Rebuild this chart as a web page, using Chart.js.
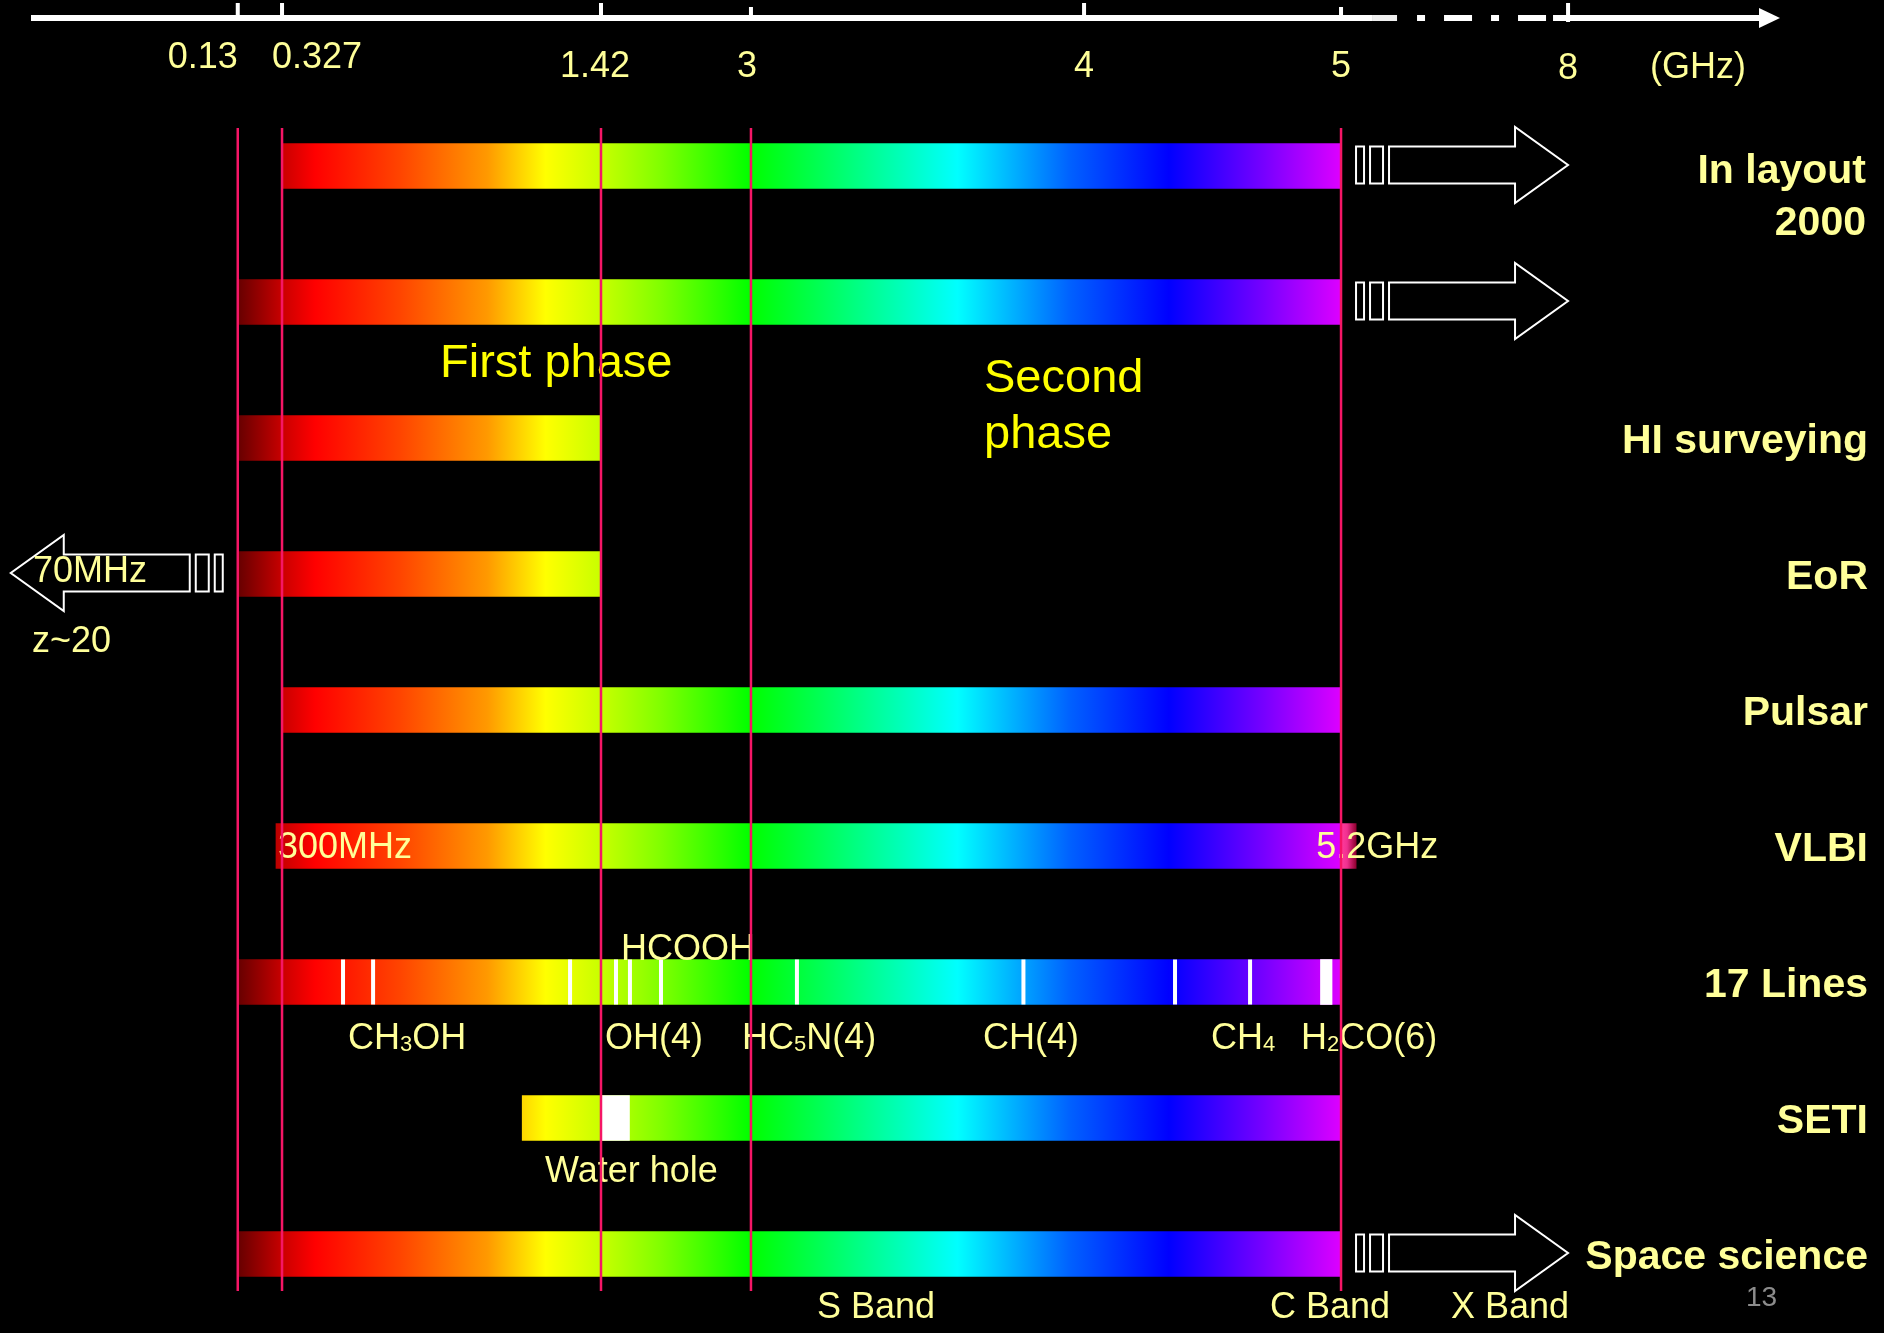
<!DOCTYPE html>
<html>
<head>
<meta charset="utf-8">
<title>Frequency coverage by science case</title>
<script src="https://cdn.jsdelivr.net/npm/chart.js@4.4.1/dist/chart.umd.min.js"></script>
<style>
  html, body { margin: 0; padding: 0; background: #000; }
  #wrap { width: 1884px; height: 1333px; }
  canvas { display: block; }
</style>
</head>
<body>
<div id="wrap"><canvas id="chart" width="1884" height="1333" style="width:1884px;height:1333px"></canvas></div>
<script>
// ---- Data -------------------------------------------------------------
// Frequency axis ticks (GHz)
const tickValues = [0.13, 0.327, 1.42, 3, 4, 5, 8];
const tickLabels = ['0.13', '0.327', '1.42', '3', '4', '5', '8'];

// Science cases, one row each, top to bottom
const rowLabels = [['In layout', '2000'], '', 'HI surveying', 'EoR', 'Pulsar', 'VLBI', '17 Lines', 'SETI', 'Space science'];

// Frequency coverage of each row, [start, end] in GHz
const coverage = [[0.327, 5], [0.13, 5], [0.13, 1.42], [0.13, 1.42], [0.327, 5], [0.3, 5.2], [0.13, 5], [1.15, 5], [0.13, 5]];

// Windows shown in white: H2CO band (17 Lines) and the water hole (SETI)
const windows = [null, null, null, null, null, null, [4.92, 4.965], [1.42, 1.72], null];

// Single spectral lines marked in the 17 Lines row (GHz)
const spectralLines = [0.536, 0.639, 1.314, 1.578, 1.725, 2.052, 3.138, 3.818, 4.354, 4.646];

// Coverage continuing past the drawn axis: 1 = higher, -1 = lower
const extendsBeyond = [1, 1, 0, -1, 0, 0, 0, 0, 1];

// Receiver boundaries (GHz)
const boundaries = [0.13, 0.327, 1.42, 3, 5];

// ---- Style ------------------------------------------------------------
const FONT = "'Liberation Sans', Arial, Helvetica, sans-serif";
const PALE = '#ffff99';
const BOUNDARY = 'rgb(245, 22, 102)';

// Position of each tick along the (hand-spaced) axis, as a fraction of the width
const axisFractions = [0.1262, 0.1497, 0.3190, 0.3986, 0.5754, 0.7118, 0.8323];

// Spectrum colour as a function of frequency
const spectrumStops = [
  [0.13, '#660000'], [0.327, '#c80000'], [0.44, '#ff0000'], [0.73, '#ff4400'],
  [1.03, '#ff9900'], [1.23, '#ffff00'], [1.42, '#c8ff00'], [2.05, '#80ff00'],
  [3.0, '#00ff00'], [3.39, '#00ffa0'], [3.62, '#00ffff'], [3.96, '#0060ff'],
  [4.33, '#0000ff'], [4.70, '#7700ff'], [5.0, '#dd00ff'], [5.004, '#ff3c9c'],
  [5.08, '#f03090'], [5.2, '#900030']
];

// ---- Piecewise frequency scale ---------------------------------------
class PiecewiseScale extends Chart.LinearScale {
  knots() { return tickValues.map((v, i) => [v, axisFractions[i]]); }
  getPixelForValue(value) {
    if (value === null || value === undefined || !isFinite(value)) return NaN;
    const k = this.knots();
    let i = 0;
    while (i < k.length - 2 && value > k[i + 1][0]) i++;
    const t = (value - k[i][0]) / (k[i + 1][0] - k[i][0]);
    return this.getPixelForDecimal(k[i][1] + t * (k[i + 1][1] - k[i][1]));
  }
  getValueForPixel(pixel) {
    const d = this.getDecimalForPixel(pixel);
    const k = this.knots();
    let i = 0;
    while (i < k.length - 2 && d > k[i + 1][1]) i++;
    const t = (d - k[i][1]) / (k[i + 1][1] - k[i][1]);
    return k[i][0] + t * (k[i + 1][0] - k[i][0]);
  }
}
PiecewiseScale.id = 'piecewise';
PiecewiseScale.defaults = {};
Chart.register(PiecewiseScale);

let spectrumCache = null;
function spectrumFill(context) {
  const chart = context.chart;
  const x = chart.scales.x;
  if (!chart.chartArea || !x) return '#ff0000';
  const x0 = x.getPixelForValue(spectrumStops[0][0]);
  const x1 = x.getPixelForValue(spectrumStops[spectrumStops.length - 1][0]);
  const key = x0 + ':' + x1;
  if (spectrumCache && spectrumCache.key === key) return spectrumCache.g;
  const g = chart.ctx.createLinearGradient(x0, 0, x1, 0);
  for (const [f, c] of spectrumStops) {
    g.addColorStop(Math.min(1, Math.max(0, (x.getPixelForValue(f) - x0) / (x1 - x0))), c);
  }
  spectrumCache = { key, g };
  return g;
}

// ---- Drawing helpers -------------------------------------------------
function put(ctx, str, x, y, size, color, align, bold) {
  ctx.font = (bold ? 'bold ' : '') + size + 'px ' + FONT;
  ctx.fillStyle = color;
  ctx.textAlign = align || 'left';
  ctx.textBaseline = 'alphabetic';
  ctx.fillText(str, x, y);
}
function putRich(ctx, parts, x, y, size, subSize, color) {
  let cx = x;
  ctx.fillStyle = color;
  ctx.textAlign = 'left';
  ctx.textBaseline = 'alphabetic';
  for (const [s, sub] of parts) {
    ctx.font = (sub ? subSize : size) + 'px ' + FONT;
    ctx.fillText(s, cx, sub ? y + 2 : y);
    cx += ctx.measureText(s).width;
  }
}
// Hollow block arrow with two small bars in front of it
function outlineArrow(ctx, anchor, yc, dir) {
  const hb = 18.5, hh = 38;
  const X = d => anchor + dir * d;
  ctx.save();
  ctx.strokeStyle = '#ffffff';
  ctx.lineWidth = 2;
  for (const [a, b] of [[15, 23], [29, 42]]) {
    const l = Math.min(X(a), X(b));
    ctx.strokeRect(l, yc - hb, Math.abs(X(b) - X(a)), hb * 2);
  }
  ctx.beginPath();
  ctx.moveTo(X(48), yc - hb);
  ctx.lineTo(X(174), yc - hb);
  ctx.lineTo(X(174), yc - hh);
  ctx.lineTo(X(227), yc);
  ctx.lineTo(X(174), yc + hh);
  ctx.lineTo(X(174), yc + hb);
  ctx.lineTo(X(48), yc + hb);
  ctx.closePath();
  ctx.stroke();
  ctx.restore();
}

function drawAxis(chart) {
  const ctx = chart.ctx, x = chart.scales.x;
  const y0 = 18;
  ctx.save();
  ctx.fillStyle = '#ffffff';
  const p5 = x.getPixelForValue(5), p8 = x.getPixelForValue(8);
  const brk = p5 + 31;
  ctx.fillRect(31, y0 - 3, brk - 31, 6);
  ctx.fillStyle = '#efefef';
  ctx.fillRect(brk, y0 - 3, 25, 6);
  ctx.fillStyle = '#ffffff';
  for (const [a, b] of [[45, 53], [72, 100], [119, 127], [146, 174], [181, 196]]) {
    ctx.fillRect(brk + a, y0 - 3, b - a, 6);
  }
  ctx.fillRect(p8, y0 - 3, 1762 - p8, 6);
  ctx.beginPath();
  ctx.moveTo(1759, y0 - 10);
  ctx.lineTo(1780, y0);
  ctx.lineTo(1759, y0 + 10);
  ctx.closePath();
  ctx.fill();

  const tickTop = [3, 3, 3, 7, 3, 7, 3];
  const tickBottom = [18, 18, 18, 18, 18, 18, 22];
  const labelPlace = [
    ['right', 0, 68], ['left', -10, 68], ['center', -6, 77], ['center', -4, 77],
    ['center', 0, 77], ['center', 0, 77], ['center', 0, 79]
  ];
  tickValues.forEach((v, i) => {
    const px = x.getPixelForValue(v);
    ctx.fillStyle = '#ffffff';
    ctx.fillRect(px - 2, tickTop[i], 4, tickBottom[i] - tickTop[i]);
    const [align, dx, ly] = labelPlace[i];
    put(ctx, tickLabels[i], px + dx, ly, 36, PALE, align);
  });
  put(ctx, '(GHz)', 1698, 78, 36, PALE, 'center');
  ctx.restore();
}

const slidePlugin = {
  id: 'slide',
  beforeDraw(chart) {
    const ctx = chart.ctx;
    ctx.save();
    ctx.fillStyle = '#000000';
    ctx.fillRect(0, 0, chart.width, chart.height);
    ctx.restore();
    drawAxis(chart);
  },
  afterDatasetsDraw(chart) {
    const ctx = chart.ctx, x = chart.scales.x, y = chart.scales.y;
    const half = 22.5;
    ctx.save();

    // spectral lines
    const linesRow = rowLabels.indexOf('17 Lines');
    const yl = y.getPixelForValue(linesRow);
    ctx.fillStyle = '#ffffff';
    for (const f of spectralLines) {
      const px = x.getPixelForValue(f);
      ctx.fillRect(px - 2, yl - half, 4, half * 2);
    }

    // continuation arrows
    extendsBeyond.forEach((d, i) => {
      if (!d) return;
      const yc = y.getPixelForValue(i) - 1;
      const anchor = x.getPixelForValue(d > 0 ? coverage[i][1] : coverage[i][0]);
      outlineArrow(ctx, anchor, yc, d);
    });

    // row titles
    rowLabels.forEach((lab, i) => {
      const yc = y.getPixelForValue(i);
      if (Array.isArray(lab)) {
        put(ctx, lab[0], 1866, yc + 17, 41, PALE, 'right', true);
        put(ctx, lab[1], 1866, yc + 69, 41, PALE, 'right', true);
      } else if (lab) {
        put(ctx, lab, 1868, yc + 15, 41, PALE, 'right', true);
      }
    });

    // phase notes
    put(ctx, 'First phase', 440, 377, 47, '#ffff00');
    put(ctx, 'Second', 984, 392, 47, '#ffff00');
    put(ctx, 'phase', 984, 448, 47, '#ffff00');

    // EoR lower limit
    put(ctx, '70MHz', 33, 582, 36, PALE);
    put(ctx, 'z~20', 32, 652, 36, PALE);

    // VLBI range
    const vRow = rowLabels.indexOf('VLBI');
    const vy = y.getPixelForValue(vRow) + 9;
    put(ctx, '300MHz', x.getPixelForValue(coverage[vRow][0]) + 2, vy + 3, 36, PALE);
    put(ctx, '5.2GHz', x.getPixelForValue(coverage[vRow][1]) - 40, vy + 3, 36, PALE);

    // molecule labels
    put(ctx, 'HCOOH', 621, 960, 36, PALE);
    putRich(ctx, [['CH', 0], ['3', 1], ['OH', 0]], 348, 1049, 36, 22, PALE);
    put(ctx, 'OH(4)', 605, 1049, 36, PALE);
    putRich(ctx, [['HC', 0], ['5', 1], ['N(4)', 0]], 742, 1049, 36, 22, PALE);
    put(ctx, 'CH(4)', 983, 1049, 36, PALE);
    putRich(ctx, [['CH', 0], ['4', 1]], 1211, 1049, 36, 22, PALE);
    putRich(ctx, [['H', 0], ['2', 1], ['CO(6)', 0]], 1301, 1049, 36, 22, PALE);

    put(ctx, 'Water hole', 545, 1182, 36, PALE);

    // bands
    put(ctx, 'S Band', 817, 1318, 36, PALE);
    put(ctx, 'C Band', 1270, 1318, 36, PALE);
    put(ctx, 'X Band', 1451, 1318, 36, PALE);

    put(ctx, '13', 1746, 1306, 28, '#8c8c8c');

    // receiver boundaries
    const top = y.getPixelForValue(0) - 38;
    const bottom = y.getPixelForValue(rowLabels.length - 1) + 37;
    ctx.strokeStyle = BOUNDARY;
    ctx.lineWidth = 2.5;
    for (const f of boundaries) {
      const px = x.getPixelForValue(f);
      ctx.beginPath();
      ctx.moveTo(px, top);
      ctx.lineTo(px, bottom);
      ctx.stroke();
    }
    ctx.restore();
  }
};

new Chart(document.getElementById('chart'), {
  type: 'bar',
  data: {
    labels: rowLabels.map(l => Array.isArray(l) ? l.join(' ') : l),
    datasets: [
      { label: 'Windows', data: windows, backgroundColor: '#ffffff', borderWidth: 0, barThickness: 45, grouped: false, order: 1 },
      { label: 'Coverage', data: coverage, backgroundColor: spectrumFill, borderWidth: 0, barThickness: 45, grouped: false, order: 2 }
    ]
  },
  options: {
    indexAxis: 'y',
    responsive: false,
    maintainAspectRatio: false,
    animation: false,
    devicePixelRatio: 1,
    events: [],
    layout: { padding: { top: 98, bottom: 11, left: 0, right: 0 } },
    plugins: { legend: { display: false }, tooltip: { enabled: false } },
    scales: {
      x: { type: 'piecewise', display: false, min: 0, max: 8 },
      y: { type: 'category', display: false, offset: true }
    }
  },
  plugins: [slidePlugin]
});
</script>
</body>
</html>
